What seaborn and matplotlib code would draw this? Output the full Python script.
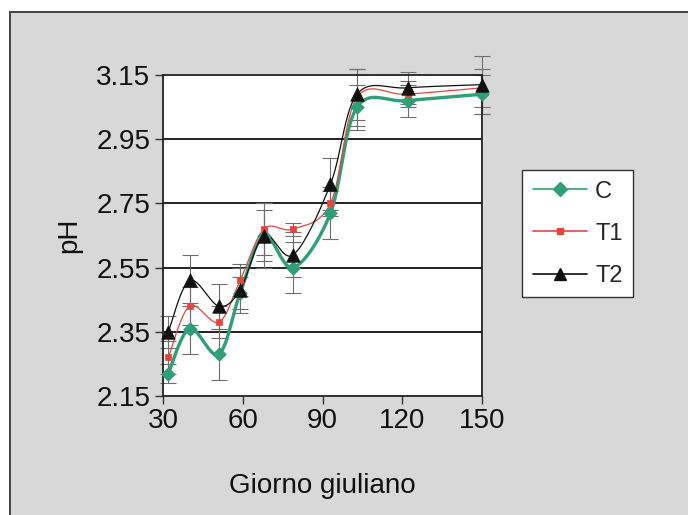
import matplotlib
matplotlib.use("Agg")
import matplotlib.pyplot as plt
from matplotlib.lines import Line2D
from matplotlib.patches import Rectangle
import numpy as np
import pandas as pd
import seaborn as sns

# giorni giuliani di campionamento
giorni = [32, 40, 51, 59, 68, 79, 93, 103, 122, 150]

ph_c = [2.22, 2.36, 2.28, 2.47, 2.65, 2.55, 2.72, 3.05, 3.07, 3.09]
ph_t1 = [2.27, 2.43, 2.38, 2.51, 2.67, 2.67, 2.75, 3.08, 3.09, 3.11]
ph_t2 = [2.35, 2.51, 2.43, 2.48, 2.65, 2.59, 2.81, 3.09, 3.11, 3.12]

err_c = [0.03, 0.08, 0.08, 0.05, 0.08, 0.08, 0.08, 0.07, 0.05, 0.06]
err_t1 = [0.05, 0.06, 0.05, 0.05, 0.08, 0.02, 0.04, 0.09, 0.04, 0.06]
err_t2 = [0.05, 0.08, 0.07, 0.07, 0.10, 0.07, 0.08, 0.08, 0.05, 0.09]

y_ticks = [2.15, 2.35, 2.55, 2.75, 2.95, 3.15]
x_ticks = [30, 60, 90, 120, 150]

series = pd.DataFrame({
    "giorno": giorni * 3,
    "pH": ph_c + ph_t1 + ph_t2,
    "err": err_c + err_t1 + err_t2,
    "tesi": ["C"] * 10 + ["T1"] * 10 + ["T2"] * 10,
})

colori = {"C": "#2f9f78", "T1": "#e5463c", "T2": "#111111"}
marcatori = {"C": "D", "T1": "s", "T2": "^"}
msize = {"C": 48, "T1": 16, "T2": 95}
lw = {"C": 2.4, "T1": 0.9, "T2": 0.9}


def smooth(xs, ys, n=40):
    # curva tipo Excel (Catmull-Rom) calcolata in coordinate normalizzate
    px = (np.asarray(xs, float) - 30) / 120
    py = (np.asarray(ys, float) - 2.15) / 1.0
    pts = np.column_stack([px, py])
    ext = np.vstack([pts[0], pts, pts[-1]])
    t = np.linspace(0, 1, n)[:, None]
    out = []
    for i in range(len(pts) - 1):
        p0, p1, p2, p3 = ext[i:i + 4]
        seg = 0.5 * (2 * p1 + (-p0 + p2) * t
                     + (2 * p0 - 5 * p1 + 4 * p2 - p3) * t ** 2
                     + (-p0 + 3 * p1 - 3 * p2 + p3) * t ** 3)
        out.append(seg)
    out = np.vstack(out)
    return out[:, 0] * 120 + 30, out[:, 1] + 2.15


sns.set_style("white")
plt.rcParams["font.family"] = ["Liberation Sans", "DejaVu Sans"]

fig = plt.figure(figsize=(6.88, 5.15), dpi=100, facecolor="white")
# sfondo grigio con bordo a sinistra e in alto
fig.add_artist(Rectangle((10 / 688, 0), 1, 1 - 12 / 515, transform=fig.transFigure,
                         facecolor="#d8d8d8", edgecolor="none", zorder=0))
fig.add_artist(Line2D([10 / 688, 10 / 688], [0, 1 - 12 / 515], transform=fig.transFigure,
                      color="#444444", lw=1.4))
fig.add_artist(Line2D([10 / 688, 1], [1 - 12 / 515, 1 - 12 / 515], transform=fig.transFigure,
                      color="#444444", lw=1.4))

ax = fig.add_axes([163 / 688, 1 - 396 / 515, 319 / 688, 321 / 515])
ax.set_facecolor("white")

for yv in y_ticks[1:-1]:
    ax.axhline(yv, color="#222222", lw=1.4, zorder=1)

for nome, grp in series.groupby("tesi"):
    ax.errorbar(grp["giorno"], grp["pH"], yerr=grp["err"], fmt="none",
                ecolor="#6e6e6e", elinewidth=0.8, capsize=6, capthick=0.8,
                zorder=2, clip_on=False)

for nome, grp in series.groupby("tesi"):
    sx, sy = smooth(grp["giorno"], grp["pH"])
    ax.plot(sx, sy, color=colori[nome], lw=lw[nome], zorder=3, clip_on=False)

for nome, grp in series.groupby("tesi"):
    sns.scatterplot(data=grp, x="giorno", y="pH", ax=ax, color=colori[nome],
                    marker=marcatori[nome], s=msize[nome], edgecolor=colori[nome],
                    linewidth=0.5, zorder=4, clip_on=False, legend=False)

ax.set_xlim(30, 150)
ax.set_ylim(2.15, 3.15)
ax.set_xticks(x_ticks)
ax.set_yticks(y_ticks)
ax.set_yticklabels([f"{v:.2f}" for v in y_ticks])
ax.tick_params(axis="both", labelsize=20, direction="out", length=6, width=1,
               color="#333333", labelcolor="#111111", pad=3)
ax.tick_params(left=True, bottom=True)
for sp in ax.spines.values():
    sp.set_color("#222222")
    sp.set_linewidth(1.3)

ax.set_xlabel("Giorno giuliano", fontsize=20, color="#111111", labelpad=28)
ax.set_ylabel("pH", fontsize=20, color="#111111", labelpad=10)

handles = [Line2D([0], [0], color=colori[k], lw=1.2, marker=marcatori[k],
                  markersize={"C": 7, "T1": 5, "T2": 8}[k],
                  markerfacecolor=colori[k], markeredgecolor=colori[k])
           for k in ["C", "T1", "T2"]]
leg = fig.legend(handles, ["C", "T1", "T2"], loc="upper left",
                 bbox_to_anchor=(522 / 688, 1 - 170 / 515), bbox_transform=fig.transFigure,
                 fontsize=17, frameon=True, fancybox=False, framealpha=1,
                 edgecolor="#333333", handlelength=2.3, labelspacing=0.85,
                 borderpad=0.45, handletextpad=0.35, borderaxespad=0)
leg.get_frame().set_linewidth(1.0)

fig.savefig("out.png", dpi=100, facecolor=fig.get_facecolor())
